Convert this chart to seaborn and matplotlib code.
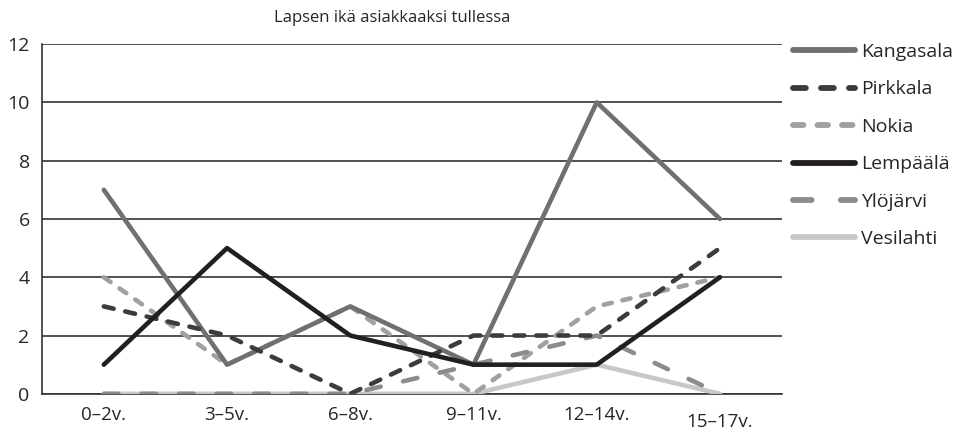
import pandas as pd
import matplotlib.pyplot as plt
import seaborn as sns

# Data
ages = ["0–2v.", "3–5v.", "6–8v.", "9–11v.", "12–14v.", "15–17v."]
kangasala = [7, 1, 3, 1, 10, 6]
pirkkala = [3, 2, 0, 2, 2, 5]
nokia = [4, 1, 3, 0, 3, 4]
lempaala = [1, 5, 2, 1, 1, 4]
ylojarvi = [0, 0, 0, 1, 2, 0]
vesilahti = [0, 0, 0, 0, 1, 0]

series = {
    "Kangasala": kangasala,
    "Pirkkala": pirkkala,
    "Nokia": nokia,
    "Lempäälä": lempaala,
    "Ylöjärvi": ylojarvi,
    "Vesilahti": vesilahti,
}

# long form table for seaborn
df = pd.DataFrame(
    [(name, a, v) for name, vals in series.items() for a, v in zip(ages, vals)],
    columns=["kunta", "ika", "n"],
)

sns.set_style("white")
plt.rcParams["font.family"] = ["Open Sans", "DejaVu Sans"]

colors = {
    "Kangasala": "#707070",
    "Pirkkala": "#3c3c3c",
    "Nokia": "#a0a0a0",
    "Lempäälä": "#231f20",
    "Ylöjärvi": "#8c8c8c",
    "Vesilahti": "#c8c8c8",
}
dashes = {
    "Kangasala": "",
    "Pirkkala": (2.2, 2.6),
    "Nokia": (1.8, 2.4),
    "Lempäälä": "",
    "Ylöjärvi": (3.2, 5.0),
    "Vesilahti": "",
}
zorders = {"Kangasala": 5, "Pirkkala": 6, "Nokia": 4, "Lempäälä": 7, "Ylöjärvi": 4, "Vesilahti": 3}

fig = plt.figure(figsize=(9.59, 4.41), dpi=100)
ax = fig.add_axes([0.044, 0.107, 0.771, 0.793])

for name in series:
    sub = df[df["kunta"] == name]
    sns.lineplot(data=sub, x="ika", y="n", ax=ax, color=colors[name], linewidth=3.3,
                 label=name, zorder=zorders[name], sort=False)
    ln = ax.get_lines()[-1]
    if dashes[name]:
        ln.set_dashes(dashes[name])
        ln.set_dash_capstyle("round")

ax.set_xlim(-0.5, 5.5)
ax.set_ylim(0, 12)
ax.set_yticks(range(0, 13, 2))
ax.grid(axis="y", color="#333333", linewidth=1.2, zorder=0)
ax.set_axisbelow(True)
for s in ["top", "right"]:
    ax.spines[s].set_visible(False)
ax.spines["left"].set_color("#333333")
ax.spines["bottom"].set_color("#333333")
ax.spines["left"].set_linewidth(1.2)
ax.spines["bottom"].set_linewidth(1.2)
ax.tick_params(axis="x", direction="out", length=6, width=1.2, color="#333333",
               labelsize=13.5, pad=3)
ax.tick_params(axis="y", length=0, labelsize=14, pad=9)
ax.set_xlabel("")
ax.set_ylabel("")
ax.set_title("Lapsen ikä asiakkaaksi tullessa", fontsize=12, pad=16, x=0.473)

# last label sits a bit lower in the original
ax.get_xticklabels()[-1].set_y(-0.018)

leg = ax.legend(loc="upper left", bbox_to_anchor=(1.015, 1.003), frameon=False,
                borderaxespad=0, borderpad=0,
                fontsize=14, handlelength=3.2, handletextpad=0.3, labelspacing=1.0)
for h, name in zip(leg.get_lines(), series):
    h.set_linewidth(4.2)
    if dashes[name]:
        h.set_dashes(dashes[name])
        h.set_dash_capstyle("round")

fig.savefig("out.png", dpi=100)
